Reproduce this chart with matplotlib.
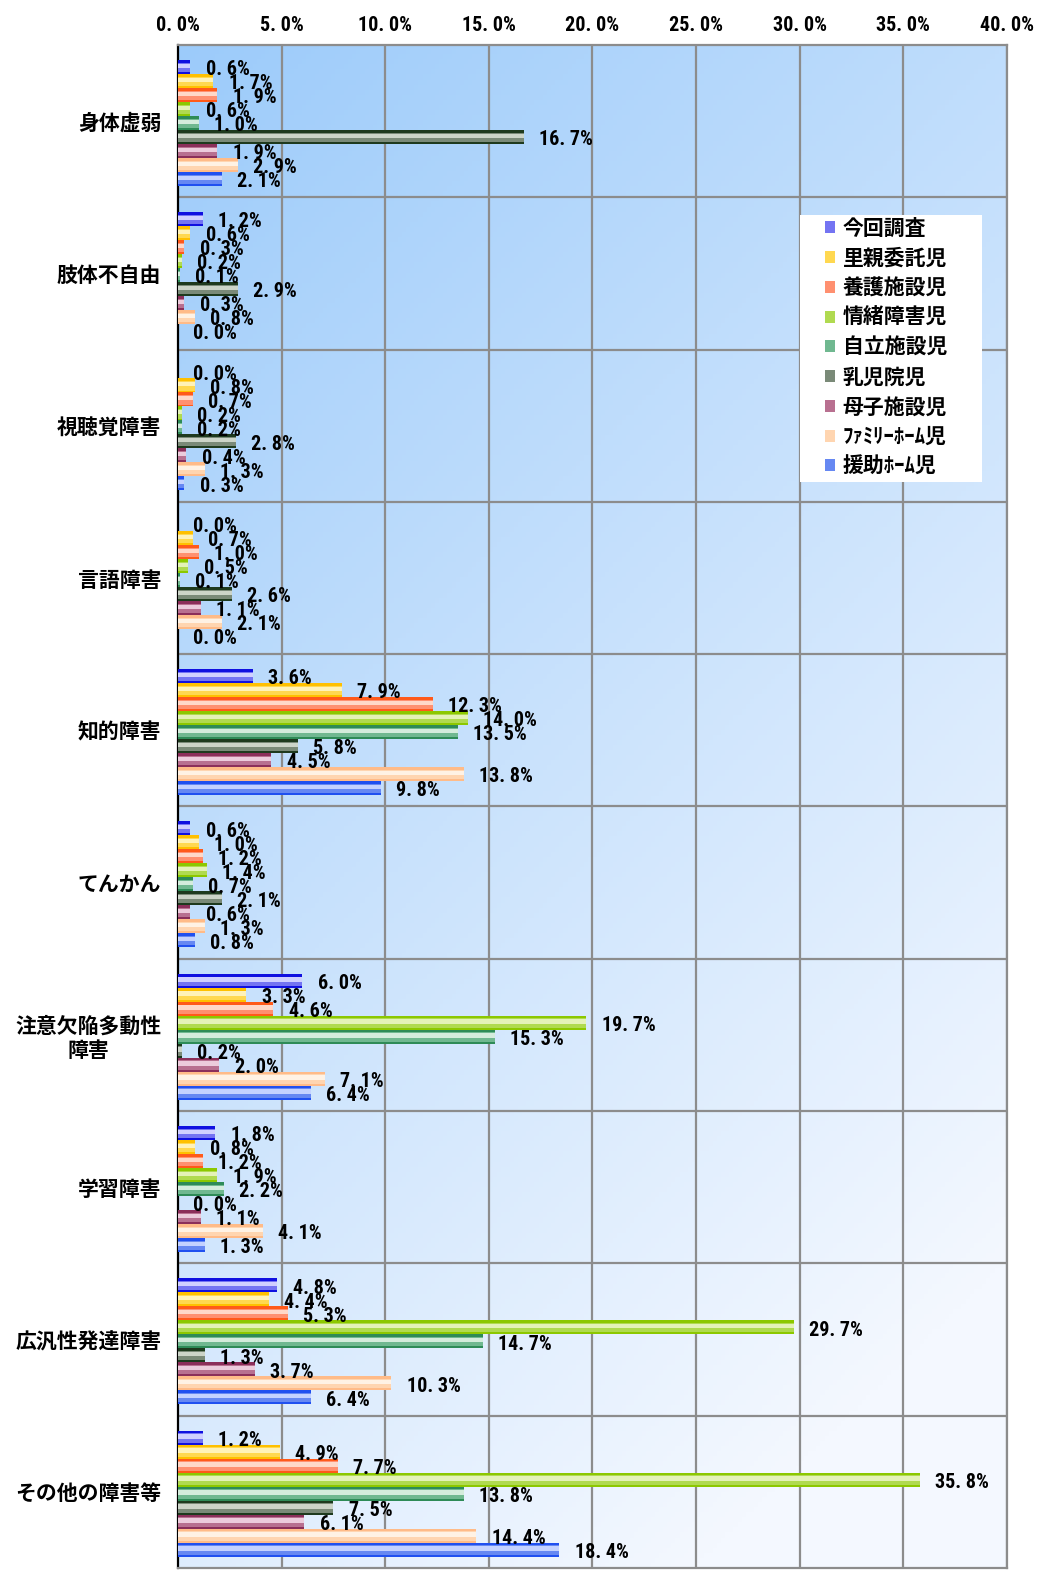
import matplotlib
matplotlib.use('Agg')
import matplotlib.pyplot as plt
import numpy as np
from matplotlib import font_manager
from matplotlib.patches import Rectangle

plt.rcParams['font.family'] = ['Noto Sans CJK JP', 'DejaVu Sans']

# narrow font for the numbers if there is one
fonts = font_manager.fontManager.ttflist
num_prop = dict(family=['Noto Sans CJK JP', 'DejaVu Sans'], weight='bold')
num_size = 13
for f in fonts:
    if f.name in ('Roboto Condensed', 'Liberation Sans Narrow', 'Open Sans Condensed'):
        num_prop = dict(family=[f.name, 'DejaVu Sans'], weight='bold')
        num_size = 14.5
        break
    if f.name == 'Roboto' and f.stretch == 'condensed':
        num_prop = dict(family=['Roboto', 'DejaVu Sans'], stretch='condensed', weight='bold')
        num_size = 14.5
        break

categories = ['身体虚弱', '肢体不自由', '視聴覚障害', '言語障害', '知的障害', 'てんかん',
              '注意欠陥多動性\n障害', '学習障害', '広汎性発達障害', 'その他の障害等']
series = ['今回調査', '里親委託児', '養護施設児', '情緒障害児', '自立施設児',
          '乳児院児', '母子施設児', 'ﾌｧﾐﾘｰﾎｰﾑ児', '援助ﾎｰﾑ児']

# values in %, rows = categories, columns = series
values = np.array([
    [0.6, 1.7, 1.9, 0.6, 1.0, 16.7, 1.9, 2.9, 2.1],
    [1.2, 0.6, 0.3, 0.2, 0.1, 2.9, 0.3, 0.8, 0.0],
    [0.0, 0.8, 0.7, 0.2, 0.2, 2.8, 0.4, 1.3, 0.3],
    [0.0, 0.7, 1.0, 0.5, 0.1, 2.6, 1.1, 2.1, 0.0],
    [3.6, 7.9, 12.3, 14.0, 13.5, 5.8, 4.5, 13.8, 9.8],
    [0.6, 1.0, 1.2, 1.4, 0.7, 2.1, 0.6, 1.3, 0.8],
    [6.0, 3.3, 4.6, 19.7, 15.3, 0.2, 2.0, 7.1, 6.4],
    [1.8, 0.8, 1.2, 1.9, 2.2, 0.0, 1.1, 4.1, 1.3],
    [4.8, 4.4, 5.3, 29.7, 14.7, 1.3, 3.7, 10.3, 6.4],
    [1.2, 4.9, 7.7, 35.8, 13.8, 7.5, 6.1, 14.4, 18.4],
])

dark = ['#1010e0', '#ffc000', '#ff5a1a', '#8cc800', '#2e8b57', '#1e3a1e', '#8b2f5a', '#ffbb88', '#2050f0']
mid = ['#7474f2', '#ffd850', '#ff9070', '#b0da50', '#70b890', '#7a8a78', '#b87090', '#ffd5b0', '#6688f2']
light = ['#d0d0ff', '#fff2b8', '#ffd8c8', '#e4f2b8', '#d4ecdc', '#ccd4c8', '#ecccdc', '#fff2e4', '#c4d2ff']

xticks = np.arange(0, 45, 5)


def pct(v):
    return ('%.1f%%' % v).replace('.', '. ')


fig = plt.figure(figsize=(10.38, 15.71), dpi=100)
ax = fig.add_axes([0.1715, 0.0019, 0.7986, 0.9695])

# background gradient
gx, gy = np.meshgrid(np.linspace(0, 1, 200), np.linspace(0, 1, 300))
t = np.clip(0.4 * gx + 0.75 * gy, 0, 1)
c0 = np.array([0x9c, 0xcb, 0xfa]) / 255
c1 = np.array([0xf4, 0xf8, 0xff]) / 255
img = c0[None, None, :] * (1 - t[..., None]) + c1[None, None, :] * t[..., None]
ax.imshow(img, extent=[0, 1, 0, 1], transform=ax.transAxes, aspect='auto', zorder=0, origin='upper')

n = len(series)
bh = 0.0919
first = 0.098
for j in range(n):
    ys = np.arange(len(categories)) + first + (j + 0.5) * bh
    v = values[:, j]
    ax.barh(ys, v, height=bh, color=mid[j], zorder=3, label=series[j])
    ax.barh(ys - bh * 0.4, v, height=bh * 0.2, color=dark[j], zorder=3)
    ax.barh(ys + bh * 0.43, v, height=bh * 0.14, color=dark[j], zorder=3)
    ax.barh(ys - bh * 0.08, v, height=bh * 0.3, color=light[j], zorder=3)
    for y, val in zip(ys, v):
        ax.annotate(pct(val), (val, y), xytext=(11, -2), textcoords='offset points',
                    ha='left', va='center', fontsize=num_size, zorder=5, **num_prop)

ax.set_xlim(0, 40)
ax.set_ylim(len(categories), 0)
ax.set_xticks(xticks)
ax.set_xticklabels([pct(x) for x in xticks], fontsize=num_size, **num_prop)
ax.xaxis.tick_top()
ax.tick_params(axis='x', length=0, pad=7)
ax.set_yticks(np.arange(len(categories)) + 0.5)
ax.set_yticklabels(categories, fontsize=15, fontweight='bold', multialignment='center')
ax.tick_params(axis='y', length=0, pad=12)

for x in xticks[1:]:
    ax.axvline(x, color='#8c8c8c', lw=1.6, zorder=1)
for y in range(1, len(categories)):
    ax.axhline(y, color='#8c8c8c', lw=1.6, zorder=1)

for s in ['top', 'right', 'bottom']:
    ax.spines[s].set_color('#8c8c8c')
    ax.spines[s].set_linewidth(1.6)
ax.spines['left'].set_color('black')
ax.spines['left'].set_linewidth(1.6)

# white legend box
ax.add_patch(Rectangle((0.7503, 0.7131), 0.2195, 0.1753, transform=ax.transAxes,
                       facecolor='white', edgecolor='none', zorder=6))
handles, labels = ax.get_legend_handles_labels()
leg = ax.legend(handles, labels, loc='upper left', bbox_to_anchor=(0.7805, 0.8865),
                prop={'weight': 'bold', 'size': 15}, frameon=False,
                handlelength=0.5, handleheight=0.5, handletextpad=0.35,
                labelspacing=0.42, borderpad=0, borderaxespad=0)
leg.set_zorder(7)

fig.savefig('out.png', dpi=100)
